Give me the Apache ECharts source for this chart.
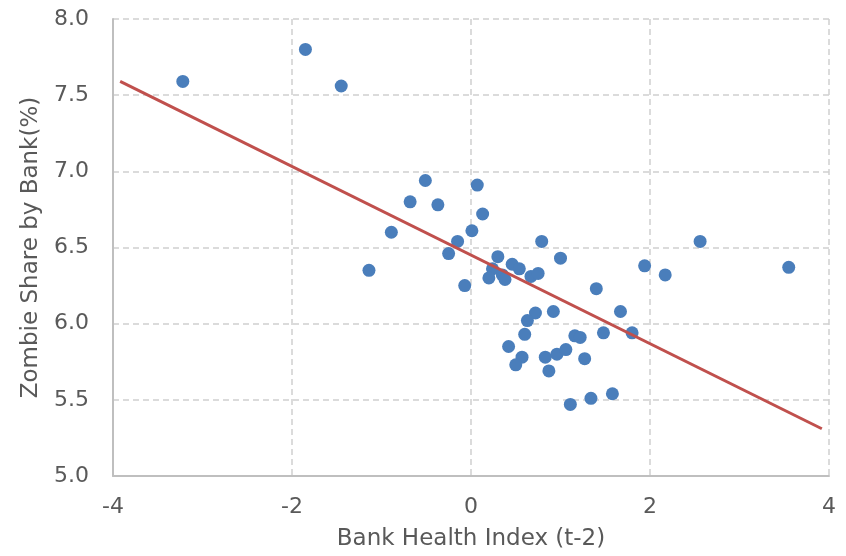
<!DOCTYPE html>
<html>
<head>
<meta charset="utf-8">
<script src="https://cdn.jsdelivr.net/npm/echarts@6/dist/echarts.min.js"></script>
<style>
html,body{margin:0;padding:0;background:#fff;}
#chart{width:846px;height:556px;}
</style>
</head>
<body>
<div id="chart"></div>
<script>
var bankHealth = [-3.22,-1.85,-1.45,-1.14,-0.89,-0.68,-0.51,-0.37,-0.25,-0.15,-0.07,0.01,0.07,0.13,0.30,0.24,0.20,0.35,0.38,0.46,0.54,0.67,0.75,0.79,1.00,1.40,0.72,0.63,0.92,0.60,0.42,0.57,0.50,0.83,0.96,1.06,1.16,1.22,0.87,1.27,1.48,1.67,1.80,1.11,1.34,1.58,1.94,2.17,2.56,3.55];
var zombieShare = [7.59,7.80,7.56,6.35,6.60,6.80,6.94,6.78,6.46,6.54,6.25,6.61,6.91,6.72,6.44,6.36,6.30,6.32,6.29,6.39,6.36,6.31,6.33,6.54,6.43,6.23,6.07,6.02,6.08,5.93,5.85,5.78,5.73,5.78,5.80,5.83,5.92,5.91,5.69,5.77,5.94,6.08,5.94,5.47,5.51,5.54,6.38,6.32,6.54,6.37];
var trendX = [-3.92, 3.92];
var trendY = [7.59, 5.31];
var xTicks = [-4, -2, 0, 2, 4];
var yTicks = [5.0, 5.5, 6.0, 6.5, 7.0, 7.5, 8.0];
var xTitle = 'Bank Health Index (t-2)';
var yTitle = 'Zombie Share by Bank(%)';

var points = bankHealth.map(function(x, i){ return [x, zombieShare[i]]; });
var trend = trendX.map(function(x, i){ return [x, trendY[i]]; });

var chart = echarts.init(document.getElementById('chart'), null, {renderer:'canvas'});
var FONT = 'DejaVu Sans';
chart.setOption({
  animation: false,
  backgroundColor: '#ffffff',
  grid: {left:113, right:17, top:19, bottom:78, containLabel:false},
  xAxis: {
    type: 'value',
    min: xTicks[0], max: xTicks[xTicks.length-1], interval: 2,
    name: xTitle, nameLocation: 'middle', nameGap: 52,
    nameTextStyle: {fontFamily: FONT, fontSize: 23, color: '#595959'},
    axisLine: {show:true, onZero:false, lineStyle:{color:'#bfbfbf', width:2}},
    axisTick: {show:false},
    axisLabel: {fontFamily: FONT, fontSize: 22, color: '#595959', margin: 20},
    splitLine: {show:true, lineStyle:{color:'#d0d0d0', type:[6,4], width:1.5}}
  },
  yAxis: {
    type: 'value',
    min: yTicks[0], max: yTicks[yTicks.length-1], interval: 0.5,
    name: yTitle, nameLocation: 'middle', nameGap: 70, nameRotate: 90,
    nameTextStyle: {fontFamily: FONT, fontSize: 23, color: '#595959'},
    axisLine: {show:true, onZero:false, lineStyle:{color:'#bfbfbf', width:2}},
    axisTick: {show:false},
    axisLabel: {fontFamily: FONT, fontSize: 22, color: '#595959', margin: 24,
      formatter: function(v){ return v.toFixed(1); }},
    splitLine: {show:true, lineStyle:{color:'#d0d0d0', type:[6,4], width:1.5}}
  },
  series: [
    {
      type: 'scatter',
      data: points,
      symbol: 'circle',
      symbolSize: 13,
      itemStyle: {color: '#4a7ebb', opacity: 1},
      z: 2
    },
    {
      type: 'line',
      data: trend,
      showSymbol: false,
      symbol: 'none',
      lineStyle: {color: '#c0504d', width: 3},
      z: 3
    }
  ]
});
</script>
</body>
</html>
